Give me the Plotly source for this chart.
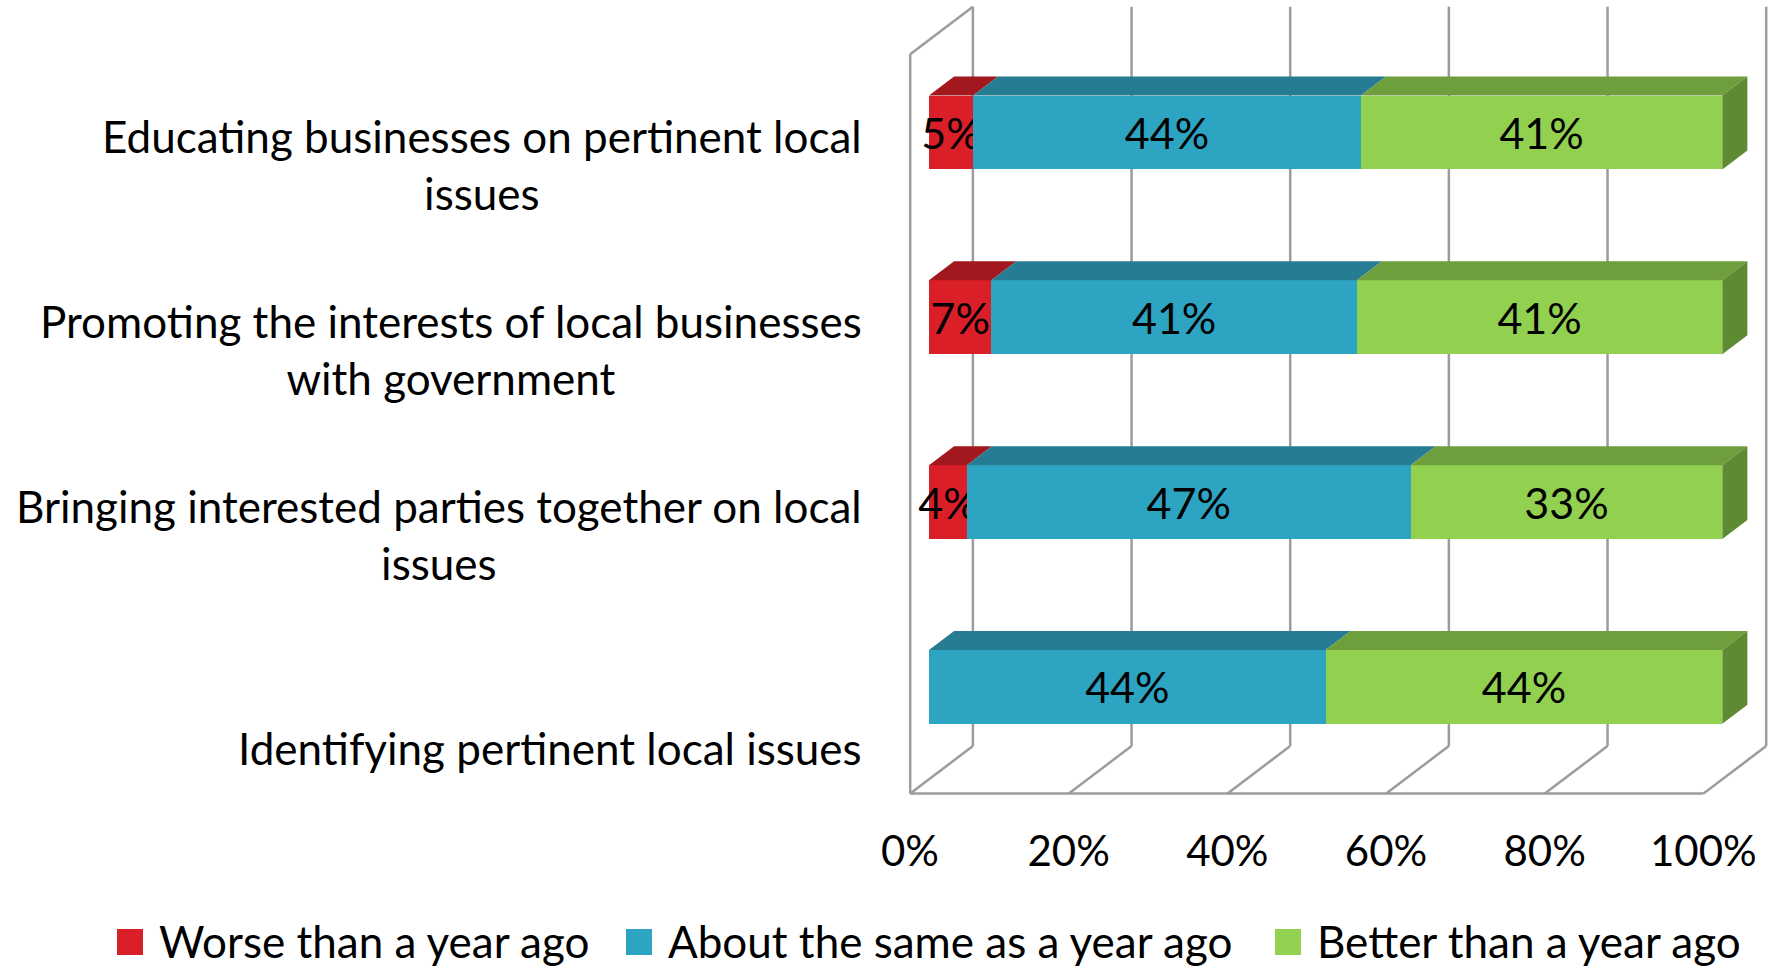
import plotly.graph_objects as go

# ---- data -------------------------------------------------------------
category_labels = [
    "Educating businesses on pertinent local<br>issues",
    "Promoting the interests of local businesses<br>with government",
    "Bringing interested parties together on local<br>issues",
    "Identifying pertinent local issues",
]
series_names = ["Worse than a year ago", "About the same as a year ago", "Better than a year ago"]
worse = [5, 7, 4, 0]
same = [44, 41, 47, 44]
better = [41, 41, 33, 44]
x_ticks = [0, 20, 40, 60, 80, 100]
x_tick_labels = ["0%", "20%", "40%", "60%", "80%", "100%"]

# ---- styling ----------------------------------------------------------
FONT = "Lato, sans-serif"
LABEL_SIZE = 44
VALUE_SIZE = 43
TICK_SIZE = 42
front_colors = ["#DA1F28", "#2DA4C2", "#92D050"]
top_colors = ["#A3181E", "#257C93", "#6F9E3C"]
side_colors = ["#A3181E", "#227088", "#5E8A31"]
GRID = "#9C9C9C"

W, H = 1777, 968
PX_PER_PCT = 7.933      # horizontal scale of the bar plane
PX_PER_CAT = 184.8      # vertical spacing between categories
X0_PX = 929             # where 0% of the bar plane sits
Y0_PX = 132.5           # centre of the first category
BAR_W = 0.4
DEPTH_DX = 62.7 / PX_PER_PCT   # full depth of the 3-D box, x units
DEPTH_DY = 47.5 / PX_PER_CAT   # full depth of the 3-D box, y units
FRONT_F, BACK_F = 0.3, 0.7     # bars sit between these depth fractions

series = [worse, same, better]
n = len(category_labels)
ypos = list(range(n))

fig = go.Figure()
for name, vals, col in zip(series_names, series, front_colors):
    fig.add_trace(go.Bar(
        name=name, orientation="h", x=vals, y=ypos, width=BAR_W,
        marker=dict(color=col, line=dict(width=0)),
        text=[f"{v}%" if v else "" for v in vals],
        textposition="inside", insidetextanchor="middle",
        constraintext="none", textangle=0,
        textfont=dict(family=FONT, size=VALUE_SIZE, color="black"),
        showlegend=False, hoverinfo="name+text",
    ))

shapes = []

def line(x0, y0, x1, y1):
    shapes.append(dict(type="line", xref="x", yref="y", x0=x0, y0=y0, x1=x1, y1=y1,
                       line=dict(color=GRID, width=2.5), layer="below"))

# walls and floor of the 3-D box
fx, fy = -FRONT_F * DEPTH_DX, FRONT_F * DEPTH_DY
bx, by = BACK_F * DEPTH_DX, -BACK_F * DEPTH_DY
ymin, ymax = -0.5, n - 0.5
for t in x_ticks:
    line(t + bx, ymin + by, t + bx, ymax + by)          # back wall gridline
    line(t + bx, ymax + by, t + fx, ymax + fy)          # floor gridline
line(x_ticks[0] + fx, ymax + fy, x_ticks[-1] + fx, ymax + fy)   # front floor edge
line(fx, ymin + fy, fx, ymax + fy)                              # side wall front edge
line(fx, ymin + fy, bx, ymin + by)                              # side wall top edge

# top and side faces of the bars
ddx, ddy = (BACK_F - FRONT_F) * DEPTH_DX, (BACK_F - FRONT_F) * DEPTH_DY
for i in range(n):
    total = sum(s[i] for s in series)
    yt, yb = i - BAR_W / 2, i + BAR_W / 2
    start = 0.0
    for k, s in enumerate(series):
        end = start + s[i] / total * 100
        if s[i] > 0:
            shapes.append(dict(
                type="path", xref="x", yref="y", layer="above", line=dict(width=0),
                fillcolor=top_colors[k],
                path=f"M{start},{yt} L{end},{yt} L{end + ddx},{yt - ddy} L{start + ddx},{yt - ddy} Z"))
        start = end
    shapes.append(dict(
        type="path", xref="x", yref="y", layer="above", line=dict(width=0),
        fillcolor=side_colors[-1],
        path=f"M{start},{yt} L{start + ddx},{yt - ddy} L{start + ddx},{yb - ddy} L{start},{yb} Z"))

# legend
legend_x = [117, 626, 1275]
for name, col, lx in zip(series_names, front_colors, legend_x):
    shapes.append(dict(type="rect", xref="paper", yref="paper",
                       x0=lx / W, x1=(lx + 26) / W, y0=1 - 955 / H, y1=1 - 929 / H,
                       fillcolor=col, line=dict(width=0)))

annotations = []
for name, lx in zip(series_names, legend_x):
    annotations.append(dict(text=name, xref="paper", yref="paper", x=(lx + 40) / W, y=1 - 941 / H,
                            xanchor="left", yanchor="middle", showarrow=False,
                            font=dict(family=FONT, size=LABEL_SIZE, color="black")))

# category labels, bottom-aligned below each bar
line_h = 1.3 * LABEL_SIZE
for i, lab in enumerate(category_labels):
    nlines = lab.count("<br>") + 1
    annotations.append(dict(text=lab, xref="paper", yref="y", x=864 / W, y=i,
                            xanchor="right", yanchor="middle", align="center",
                            yshift=-61 + (nlines - 1) * line_h / 2, showarrow=False,
                            font=dict(family=FONT, size=LABEL_SIZE, color="black")))

fig.update_layout(
    width=W, height=H, autosize=False,
    margin=dict(l=0, r=0, t=0, b=0),
    paper_bgcolor="white", plot_bgcolor="white",
    barmode="stack", barnorm="percent",
    shapes=shapes, annotations=annotations, showlegend=False,
    xaxis=dict(range=[-X0_PX / PX_PER_PCT, (W - X0_PX) / PX_PER_PCT],
               tickmode="array", tickvals=x_ticks, ticktext=x_tick_labels,
               showgrid=False, zeroline=False,
               showline=False, ticks="", anchor="free", position=1 - 792.7 / H,
               ticklabelshift=-round(FRONT_F * DEPTH_DX * PX_PER_PCT),
               ticklabelstandoff=30,
               tickfont=dict(family=FONT, size=TICK_SIZE, color="black")),
    yaxis=dict(range=[(H - Y0_PX) / PX_PER_CAT, -Y0_PX / PX_PER_CAT],
               showticklabels=False, showgrid=False, zeroline=False, showline=False),
)

fig.write_html("out.html")
